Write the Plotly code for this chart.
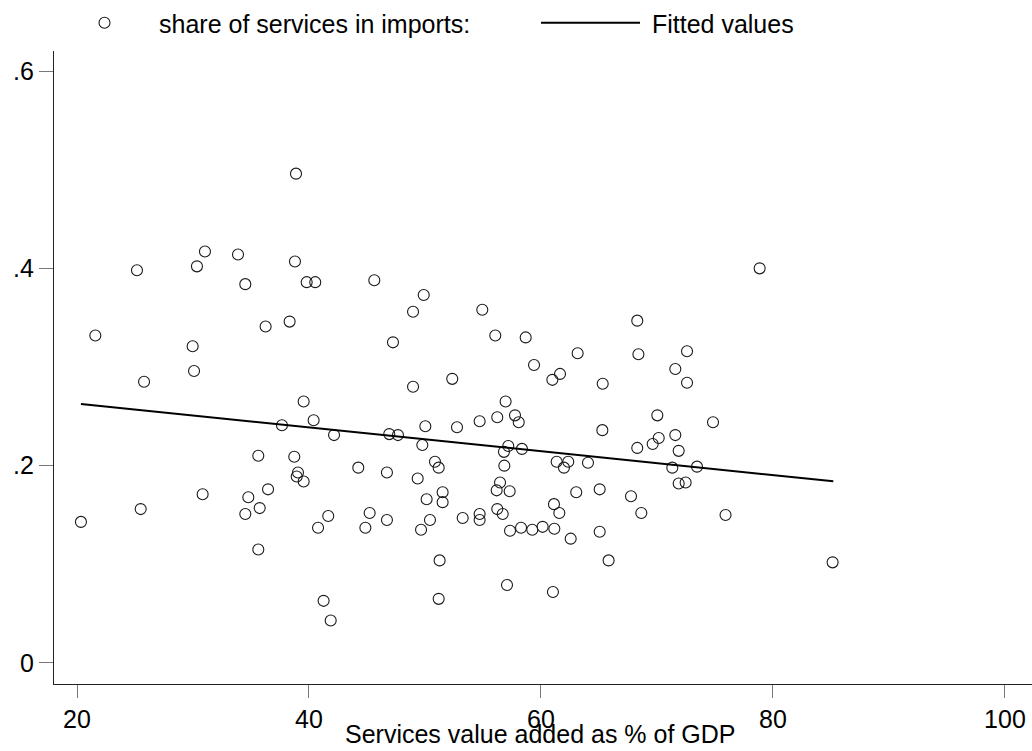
import plotly.graph_objects as go

# Services value added as % of GDP (x) and share of services in imports (y)
services_va = [
    38.88, 31.03, 33.88, 38.79, 25.17, 30.34, 34.51, 21.58, 38.33, 36.26,
    29.97, 30.09, 25.78, 39.54, 37.67, 35.63, 38.73, 39.05, 38.94, 39.54,
    36.47, 30.83, 34.77, 35.75, 34.51, 25.49, 20.34, 35.63,
    39.80, 40.54, 45.63, 49.89, 48.97, 54.94, 47.24, 48.97, 52.35, 40.40,
    42.16, 46.92, 47.67, 50.03, 49.77, 52.76, 54.71, 44.25, 46.72, 49.37,
    50.86, 51.18, 51.52, 51.52, 50.14, 41.66, 40.78, 45.23, 44.86, 46.72,
    50.43, 49.66, 53.25, 54.71, 54.71, 51.26, 51.18, 41.26, 41.87,
    56.06, 58.68, 68.30, 63.16, 68.40, 59.40, 61.64, 60.98, 65.32, 56.95,
    56.23, 57.76, 58.08, 65.29, 68.30, 57.18, 56.81, 58.36, 56.84, 61.35,
    62.35, 61.98, 64.05, 56.47, 56.18, 57.30, 63.04, 65.06, 67.76, 68.65,
    56.23, 56.70, 61.12, 61.58, 57.33, 58.28, 59.25, 60.14, 61.15, 62.56,
    65.06, 65.83, 57.07, 61.03,
    78.85, 72.59, 71.58, 72.59, 70.03, 74.83, 70.15, 69.63, 71.58, 71.87,
    71.32, 73.45, 71.87, 72.47, 75.91, 85.14,
]
services_share = [
    0.496, 0.417, 0.414, 0.407, 0.398, 0.402, 0.384, 0.332, 0.346, 0.341,
    0.321, 0.296, 0.285, 0.265, 0.241, 0.210, 0.209, 0.193, 0.189, 0.184,
    0.176, 0.171, 0.168, 0.157, 0.151, 0.156, 0.143, 0.115,
    0.386, 0.386, 0.388, 0.373, 0.356, 0.358, 0.325, 0.280, 0.288, 0.246,
    0.231, 0.232, 0.231, 0.240, 0.221, 0.239, 0.245, 0.198, 0.193, 0.187,
    0.204, 0.198, 0.173, 0.163, 0.166, 0.149, 0.137, 0.152, 0.137, 0.145,
    0.145, 0.135, 0.147, 0.151, 0.145, 0.104, 0.065, 0.063, 0.043,
    0.332, 0.330, 0.347, 0.314, 0.313, 0.302, 0.293, 0.287, 0.283, 0.265,
    0.249, 0.251, 0.244, 0.236, 0.218, 0.220, 0.214, 0.217, 0.200, 0.204,
    0.204, 0.198, 0.203, 0.183, 0.175, 0.174, 0.173, 0.176, 0.169, 0.152,
    0.156, 0.151, 0.161, 0.152, 0.134, 0.137, 0.135, 0.138, 0.136, 0.126,
    0.133, 0.104, 0.079, 0.072,
    0.400, 0.316, 0.298, 0.284, 0.251, 0.244, 0.228, 0.222, 0.231, 0.215,
    0.198, 0.199, 0.182, 0.183, 0.150, 0.102,
]

# Fitted values line endpoints
fit_x = [20.34, 85.2]
fit_y = [0.2626, 0.1841]

x_ticks = [20, 40, 60, 80, 100]
x_tick_labels = ["20", "40", "60", "80", "100"]
y_ticks = [0, 0.2, 0.4, 0.6]
y_tick_labels = ["0", ".2", ".4", ".6"]

FONT = "Liberation Sans, Arial, Helvetica, sans-serif"
FS = 25

fig = go.Figure()
fig.add_trace(go.Scatter(
    x=services_va, y=services_share, mode="markers",
    name="share of services in imports:",
    marker=dict(symbol="circle-open", size=11, color="#1a1a1a",
                line=dict(width=1.1, color="#1a1a1a")),
))
fig.add_trace(go.Scatter(
    x=fit_x, y=fit_y, mode="lines", name=" Fitted values",
    line=dict(color="#000000", width=2),
))

fig.update_layout(
    width=1032, height=751,
    paper_bgcolor="white", plot_bgcolor="white",
    margin=dict(l=54, r=0, t=51, b=67, autoexpand=False),
    font=dict(family=FONT, size=FS, color="#000000"),
    showlegend=True,
    legend=dict(
        orientation="h", xref="container", yref="container",
        x=50 / 1032, y=1.0, xanchor="left", yanchor="top",
        itemwidth=99, entrywidth=372, entrywidthmode="pixels",
        font=dict(family=FONT, size=FS, color="#000000"),
        bgcolor="rgba(0,0,0,0)", borderwidth=0,
        itemclick=False, itemdoubleclick=False,
    ),
    xaxis=dict(
        range=[18.017, 102.33], tickmode="array", tickvals=x_ticks,
        ticktext=x_tick_labels, ticks="outside", ticklen=13, tickwidth=1,
        tickcolor="#777777", showline=True, linecolor="#222222", linewidth=1.3,
        showgrid=False, zeroline=False,
        tickfont=dict(family=FONT, size=FS, color="#000000"),
    ),
    yaxis=dict(
        range=[-0.0213, 0.6203], tickmode="array", tickvals=y_ticks,
        ticktext=y_tick_labels, ticks="outside", ticklen=14, tickwidth=1,
        tickcolor="#777777", showline=True, linecolor="#222222", linewidth=1.3,
        showgrid=False, zeroline=False,
        tickfont=dict(family=FONT, size=FS, color="#000000"),
    ),
    annotations=[dict(
        text="Services value added as % of GDP", xref="paper", yref="paper",
        x=(539.5 - 54) / 978, y=(684 - 734) / 633, xanchor="center",
        yanchor="middle", showarrow=False,
        font=dict(family=FONT, size=FS, color="#000000"),
    )],
)

fig.write_html(
    "out.html",
    config={"displayModeBar": False},
    post_script="document.body.style.margin='0';document.body.style.overflow='hidden';",
)
